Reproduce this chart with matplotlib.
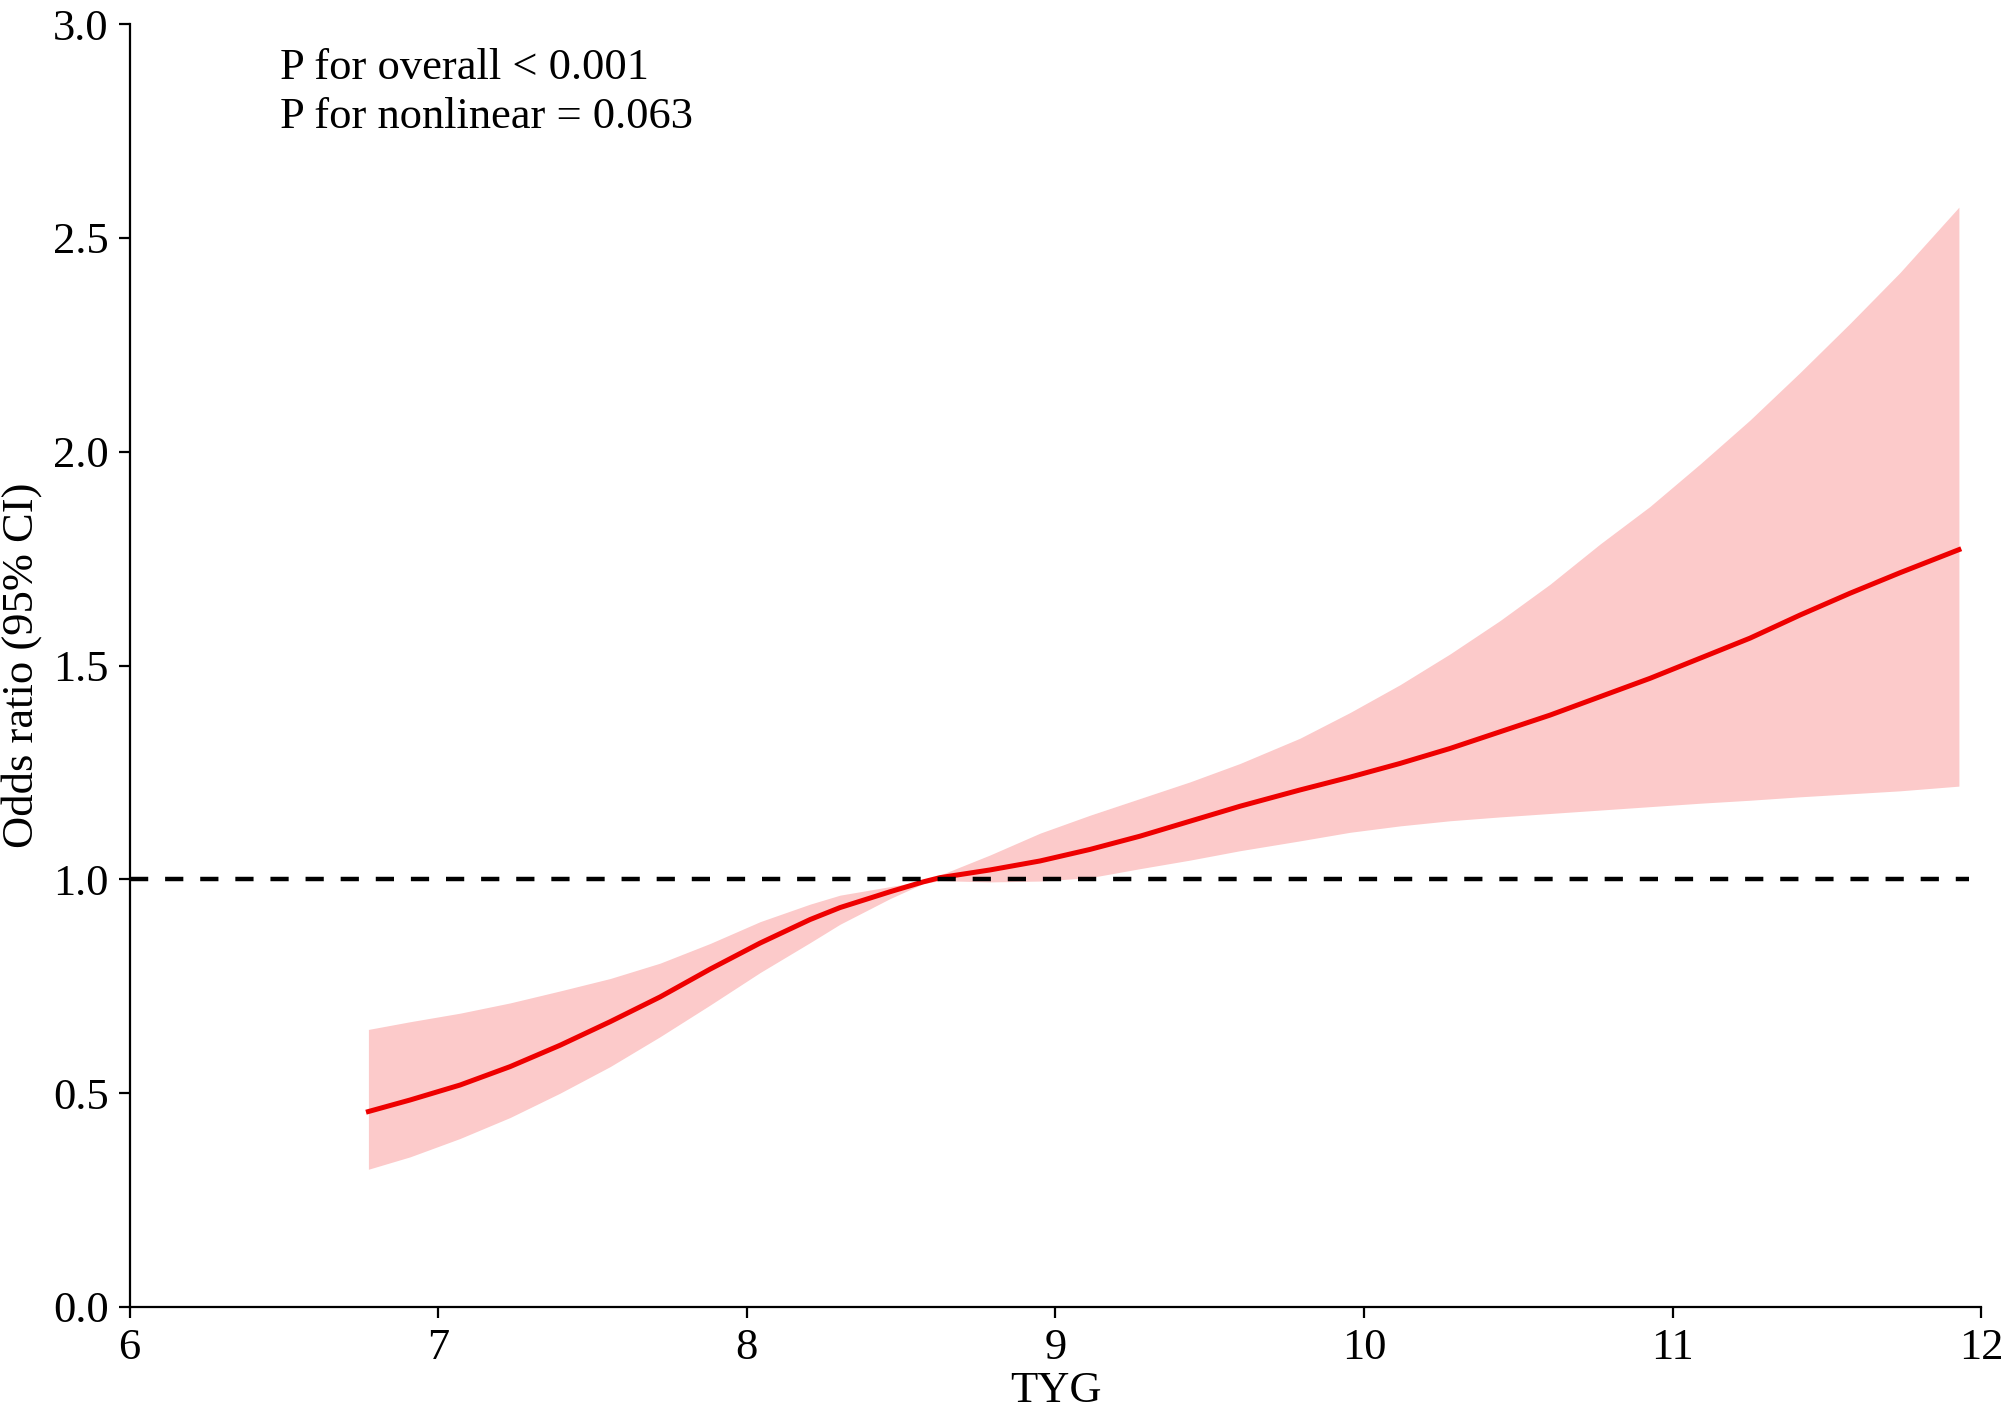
import matplotlib
matplotlib.use('Agg')
from matplotlib import pyplot as plt

plt.rcParams.update({'font.size': 16, 'font.family': ['Liberation Serif', 'DejaVu Serif']})

# values
tyg = [6.774, 6.909, 7.071, 7.233, 7.395, 7.557, 7.719, 7.881, 8.043, 8.205,
       8.302, 8.464, 8.571, 8.626, 8.788, 8.950, 9.112, 9.274, 9.436, 9.598,
       9.792, 9.954, 10.116, 10.278, 10.440, 10.602, 10.764, 10.926, 11.088, 11.250, 11.412,
       11.574, 11.736, 11.927]
odds = [0.457, 0.484, 0.519, 0.562, 0.612, 0.667, 0.725, 0.790, 0.851, 0.906,
        0.934, 0.971, 0.994, 1.004, 1.022, 1.043, 1.070, 1.101, 1.136, 1.171,
        1.209, 1.239, 1.271, 1.306, 1.345, 1.384, 1.427, 1.470, 1.517, 1.564, 1.618,
        1.669, 1.717, 1.771]
upper = [0.649, 0.667, 0.687, 0.711, 0.739, 0.768, 0.804, 0.850, 0.901, 0.942,
         0.963, 0.983, 0.996, 1.010, 1.057, 1.108, 1.150, 1.189, 1.228, 1.271,
         1.330, 1.390, 1.455, 1.527, 1.605, 1.690, 1.784, 1.872, 1.971, 2.074, 2.185,
         2.300, 2.419, 2.572]
lower = [0.322, 0.351, 0.394, 0.443, 0.500, 0.562, 0.632, 0.706, 0.782, 0.852,
         0.895, 0.955, 0.990, 0.997, 0.994, 0.996, 1.004, 1.025, 1.045, 1.067,
         1.090, 1.110, 1.125, 1.137, 1.146, 1.154, 1.162, 1.170, 1.178, 1.185, 1.193,
         1.200, 1.207, 1.218]

fig = plt.figure(figsize=(10.055, 7.06), dpi=200)
ax = fig.add_axes([0.0644, 0.0744, 0.9209, 0.9085])

ax.fill_between(tyg, lower, upper, color='#fccaca', linewidth=0)
ax.plot(tyg, odds, color='#ee0000', linewidth=1.8)
ax.hlines(1.0, 6, 11.96, colors='black', linestyles=(0, (4.1, 3.8)), linewidth=1.6)

ax.text(6.486, 2.872, 'P for overall < 0.001', va='baseline')
ax.text(6.486, 2.757, 'P for nonlinear = 0.063', va='baseline')

ax.set_xlim(6, 12)
ax.set_ylim(0, 3.0)
ax.set_xticks(range(6, 13))
ax.set_yticks([0.0, 0.5, 1.0, 1.5, 2.0, 2.5, 3.0])
ax.set_yticklabels(['0.0', '0.5', '1.0', '1.5', '2.0', '2.5', '3.0'])
ax.set_xlabel('TYG', labelpad=1)
ax.set_ylabel('Odds ratio (95% CI)')

for s in ['top', 'right']:
    ax.spines[s].set_visible(False)
for s in ['left', 'bottom']:
    ax.spines[s].set_linewidth(0.8)
ax.tick_params(direction='out', length=4, width=0.8)

plt.savefig('out.png', dpi=200)
